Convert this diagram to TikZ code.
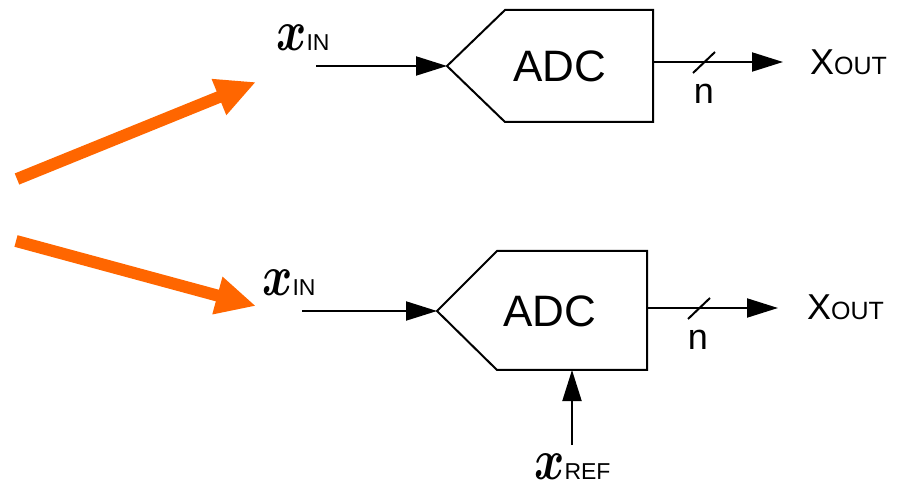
\RequirePackage{fix-cm}
\documentclass[tikz,border=0pt]{standalone}
\usepackage{bm}
\usepackage{fontspec}
\setmainfont{Liberation Sans}
\usetikzlibrary{arrows.meta}
\definecolor{orng}{HTML}{FF6600}
\newcommand{\xs}[1]{{\fontsize{46}{46}\selectfont\scalebox{1}[1.25]{$\bm{x}$}}{\fontsize{23}{23}\selectfont #1}}
\begin{document}
\begin{tikzpicture}[x=1pt,y=-1pt,
  blk/.style={line width=2pt},
  sig/.style={line width=2pt,-{Triangle[length=31pt,width=19pt]}},
  big/.style={-{Triangle[length=40pt,width=36pt]},line width=12pt,draw=orng,fill=orng},
  lbl/.style={inner sep=0pt,anchor=base west},
  adct/.style={inner sep=0pt,font=\fontsize{44}{44}\selectfont},
  nt/.style={inner sep=0pt,anchor=base,font=\fontsize{36}{36}\selectfont},
  xo/.style={inner sep=0pt,anchor=base west,font=\fontsize{36}{36}\selectfont}]
\useasboundingbox (0,0) rectangle (906,489);
% orange arrows
\coordinate (o1s) at (17,179);
\coordinate (o1e) at (256,82);
\coordinate (o2s) at (16,241);
\coordinate (o2e) at (256,306);
\draw[big] (o1s) -- (o1e);
\draw[big] (o2s) -- (o2e);
% top ADC
\draw[blk] (447,66) coordinate (tA) -- (505,10) -- (653,10) -- (653,122) -- (505,122) -- cycle;
\node[adct] (adc1) at (560,66) {ADC};
\coordinate (ti) at (316,66);
\draw[sig] (ti) -- (tA);
\coordinate (to1) at (653,62);
\coordinate (to2) at (783,62);
\draw[sig] (to1) -- (to2);
\draw[blk] (693,73) coordinate (s1a) -- (715,52) coordinate (s1b);
\node[nt] (n1) at (704,104) {n};
\node[xo] (xo1) at (810,75) {X{\fontsize{25}{25}\selectfont OUT}};
\node[lbl] (xin1) at (276,51) {\xs{IN}};
% bottom ADC
\draw[blk] (437,311) coordinate (bA) -- (497,251) -- (647,251) -- (647,370) -- (497,370) -- cycle;
\coordinate (bBot) at (572,370);
\node[adct] (adc2) at (550,311) {ADC};
\coordinate (bi) at (302,311);
\draw[sig] (bi) -- (bA);
\coordinate (bo1) at (647,308);
\coordinate (bo2) at (778,308);
\draw[sig] (bo1) -- (bo2);
\draw[blk] (688,319) coordinate (s2a) -- (710,298) coordinate (s2b);
\node[nt] (n2) at (698,350) {n};
\node[xo] (xo2) at (807,320) {X{\fontsize{25}{25}\selectfont OUT}};
\node[lbl] (xin2) at (262,296) {\xs{IN}};
% ref
\coordinate (br) at (572,445);
\draw[sig] (br) -- (bBot);
\node[lbl] (xref) at (534,479) {\xs{REF}};
\end{tikzpicture}
\end{document}
